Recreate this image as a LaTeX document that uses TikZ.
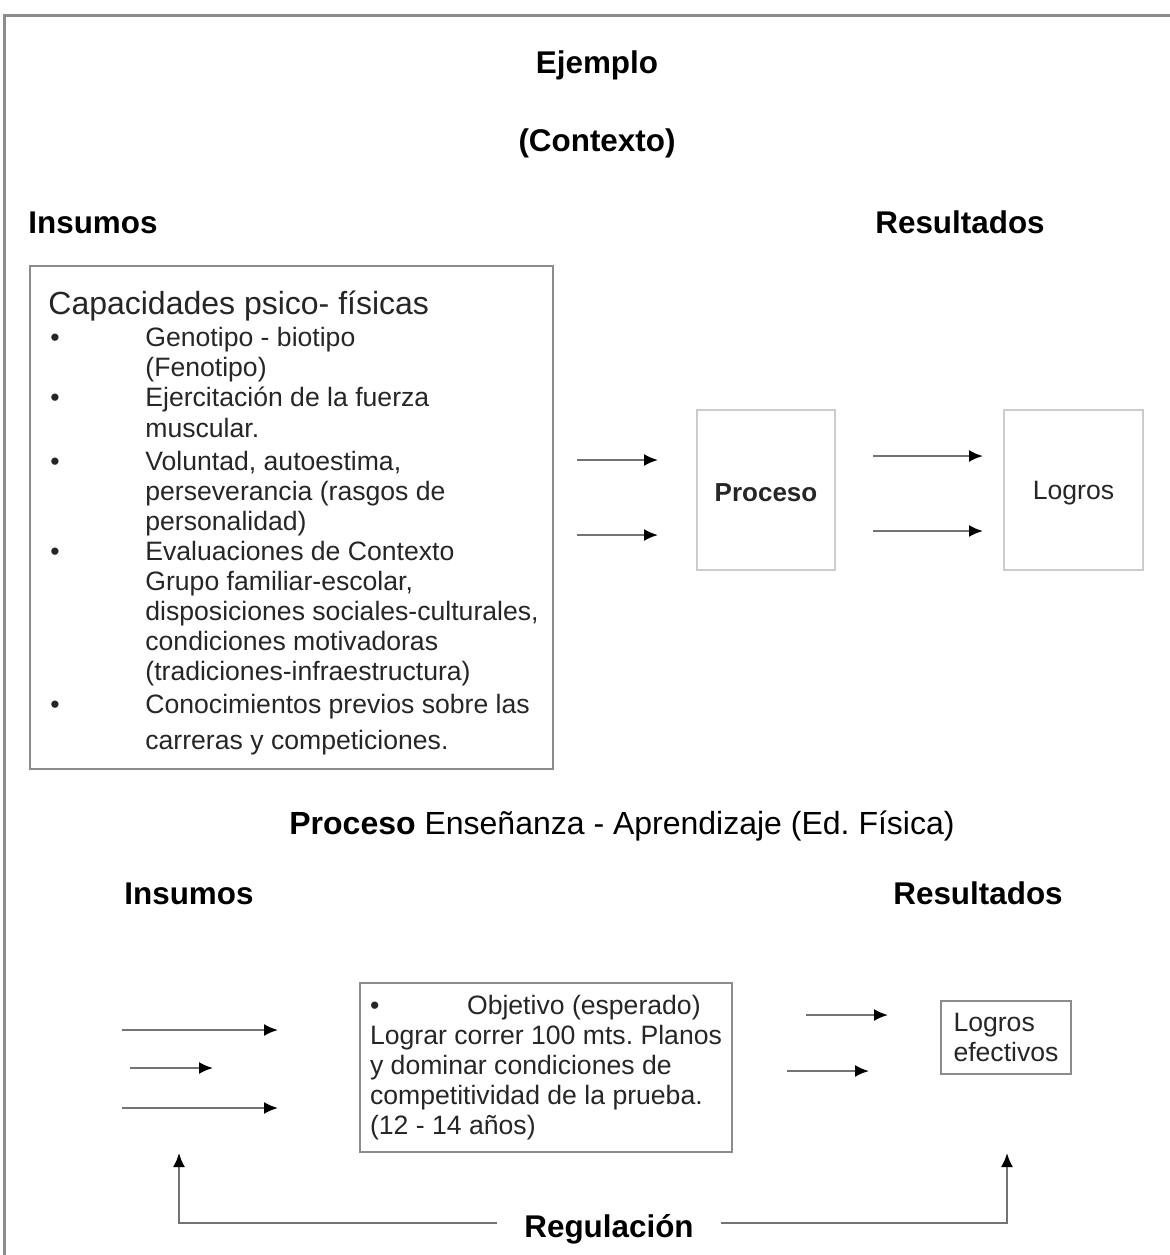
\documentclass[tikz,border=0pt]{standalone}
\usepackage{fontspec}
\setmainfont{Liberation Sans}
\usetikzlibrary{arrows.meta}

\newcommand{\itm}{\makebox[47.5pt][l]{\textbullet}}
\newcommand{\ind}{\hspace*{47.5pt}}

\begin{document}
\frenchspacing
\begin{tikzpicture}[x=0.5pt,y=-0.5pt,
		heading/.style={font=\fontsize{15.7pt}{18pt}\selectfont\bfseries,inner sep=0pt,anchor=base},
		body/.style={font=\fontsize{13.3pt}{15pt}\selectfont,text=black!85},
		darkbox/.style={draw=black!45,line width=1pt},
		lightbox/.style={draw=black!20,line width=1pt},
		flow/.style={draw=black!55,line width=1pt,-{Latex[length=7pt,width=6pt,color=black]}}]
	\useasboundingbox (0,0) rectangle (1170,1255);
	% frame (top and left edges only)
	\draw[black!45,line width=1.5pt] (1170,15) -- (4,15) -- (4,1255);
	% upper part: example in context
	\node[heading] (ejemplo) at (597,73) {Ejemplo};
	\node[heading] (contexto) at (597,151) {(Contexto)};
	\node[heading,anchor=base west] (insumos) at (28,233) {Insumos};
	\node[heading,anchor=base west] (resultados) at (875,233) {Resultados};
	% inputs box
	\node[darkbox,minimum width=261.5pt,minimum height=251.5pt] (capbox) at (291.5,517.5) {};
	\node[body,anchor=base west,inner sep=0pt,font=\fontsize{16pt}{18pt}\selectfont] (captit) at (48,314) {Capacidades psico- físicas};
	\node[body,anchor=north west,inner sep=0pt,align=left] (caplist) at (50,327) {%
		\itm Genotipo - biotipo\\
		\ind (Fenotipo)\\
		\itm Ejercitación de la fuerza\\[0.5pt]
		\ind muscular.\\[1.5pt]
		\itm Voluntad, autoestima,\\
		\ind perseverancia (rasgos de\\
		\ind personalidad)\\
		\itm Evaluaciones de Contexto\\
		\ind Grupo familiar-escolar,\\
		\ind disposiciones sociales-culturales,\\
		\ind condiciones motivadoras\\
		\ind (tradiciones-infraestructura)\\[1.5pt]
		\itm Conocimientos previos sobre las\\[3pt]
		\ind carreras y competiciones.};
	% process and achievements
	\node[lightbox,minimum width=69pt,minimum height=80pt,text height=12pt,body,font=\fontsize{13pt}{15pt}\selectfont\bfseries] (proceso) at (766,490) {Proceso};
	\node[lightbox,minimum width=69.5pt,minimum height=80pt,text height=12pt,body] (logros) at (1073.5,490) {Logros};
	% lower part: teaching-learning process
	\node[heading,font=\fontsize{16pt}{18pt}\selectfont] (titulo) at (622,834) {\textbf{Proceso} Enseñanza - Aprendizaje (Ed. Física)};
	\node[heading,anchor=base west] (insumosb) at (124,904) {Insumos};
	\node[heading,anchor=base west] (resultadosb) at (893,904) {Resultados};
	\node[darkbox,body,minimum width=186pt,minimum height=84.5pt,align=left] (objetivo) at (546,1067.5) {%
		\makebox[48.5pt][l]{\textbullet}Objetivo (esperado)\\
		Lograr correr 100 mts. Planos\\
		y dominar condiciones de\\
		competitividad de la prueba.\\
		(12 - 14 años)};
	\node[darkbox,body,minimum width=65pt,minimum height=36.5pt,align=left] (efectivos) at (1006,1037.5) {Logros\\efectivos};
	\node[heading,inner xsep=13.5pt] (regulacion) at (609,1237) {Regulación};
	% arrows
	\foreach \n/\xa/\xb/\y in {a/577/658/460,b/577/658/535,c/873/983/456,d/873/983/531,
			e/122/278/1030,f/130/213/1068,g/122/278/1108,h/806/888/1015,i/787/869/1071}{
		\coordinate (\n-s) at (\xa,\y);
		\coordinate (\n-e) at (\xb,\y);
		\draw[flow] (\n-s) -- (\n-e);
	}
	% feedback loop
	\coordinate (regL) at (179,1153);
	\coordinate (regR) at (1007,1153);
	\draw[flow] ([yshift=7pt]regulacion.base west) -| (regL);
	\draw[flow] ([yshift=7pt]regulacion.base east) -| (regR);
\end{tikzpicture}
\end{document}
